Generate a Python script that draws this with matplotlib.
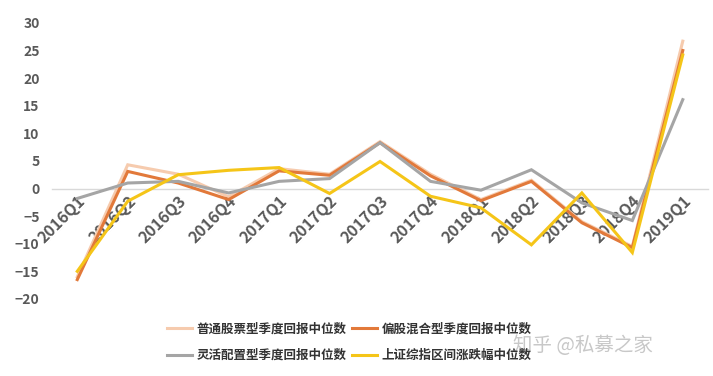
import matplotlib.pyplot as plt

plt.rcParams['font.family'] = ['Noto Sans CJK SC', 'DejaVu Sans']

# Quarterly median returns (%)
quarters = ['2016Q1', '2016Q2', '2016Q3', '2016Q4', '2017Q1', '2017Q2', '2017Q3',
            '2017Q4', '2018Q1', '2018Q2', '2018Q3', '2018Q4', '2019Q1']
stock_fund = [-16.0, 4.3, 2.6, -1.5, 3.6, 2.6, 8.5, 2.6, -2.0, 1.5, -6.0, -10.5, 26.7]
mixed_equity = [-16.5, 3.1, 1.0, -2.0, 3.2, 2.4, 8.3, 2.3, -2.2, 1.3, -6.2, -10.7, 25.0]
flexible = [-1.8, 1.0, 1.3, -0.8, 1.3, 1.8, 8.3, 1.3, -0.3, 3.4, -2.6, -5.8, 16.1]
sh_index = [-15.0, -2.3, 2.5, 3.3, 3.8, -0.9, 4.9, -1.4, -3.5, -10.2, -0.8, -11.6, 24.2]

labels = ['普通股票型季度回报中位数', '偏股混合型季度回报中位数',
          '灵活配置型季度回报中位数', '上证综指区间涨跌幅中位数']
colors = ['#F6CBAE', '#E2793A', '#A5A5A5', '#F5C518']

fig = plt.figure(figsize=(7.13, 3.76), dpi=100)
ax = fig.add_axes([0.073, 0.205, 0.92, 0.734])

x = list(range(len(quarters)))
lines = []
for vals, lab, col in zip([stock_fund, mixed_equity, flexible, sh_index], labels, colors):
    ln, = ax.plot(x, vals, color=col, lw=2.2, label=lab, solid_joinstyle='miter')
    lines.append(ln)

for s in ['top', 'right', 'left']:
    ax.spines[s].set_visible(False)
# zero line doubles as the x axis
ax.spines['bottom'].set_position(('data', 0))
ax.spines['bottom'].set_color('#d9d9d9')
ax.spines['bottom'].set_linewidth(1.0)
ax.spines['bottom'].set_zorder(0)

ax.set_xlim(-0.5, 12.5)
ax.set_ylim(-20, 30)
ax.set_yticks(range(-20, 31, 5))
ax.set_xticks(x)
ax.set_xticklabels(quarters, rotation=45, ha='right', rotation_mode='anchor')

ax.tick_params(axis='both', length=0, labelcolor='#595959')
ax.tick_params(axis='x', pad=3, labelsize=11.5)
ax.tick_params(axis='y', pad=9, labelsize=10)
for t in ax.get_xticklabels() + ax.get_yticklabels():
    t.set_fontweight('bold')

order = [0, 2, 1, 3]
leg = fig.legend([lines[i] for i in order], [labels[i] for i in order],
                 ncol=2, loc='center', bbox_to_anchor=(0.49, 0.09),
                 frameon=False, handlelength=2.0, handletextpad=0.4,
                 columnspacing=0.4, labelspacing=1.1,
                 prop={'size': 9, 'weight': 'bold'})
for t in leg.get_texts():
    t.set_color('#333333')

fig.text(0.72, 0.082, '知乎 @私募之家', fontsize=14, color='#c8c8c8', va='center', ha='left')

fig.savefig('out.png', dpi=100)
